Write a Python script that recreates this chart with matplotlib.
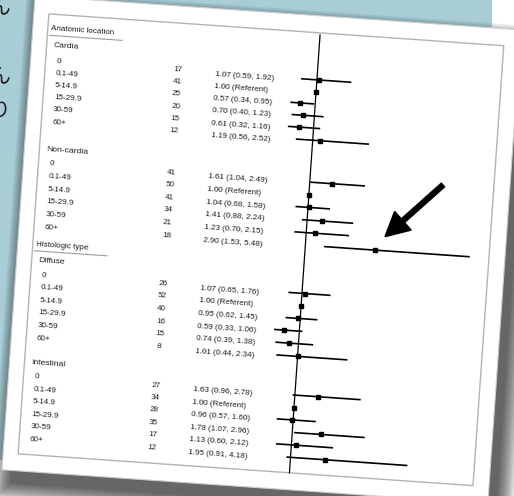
import matplotlib
matplotlib.use("Agg")
import matplotlib.pyplot as plt
from matplotlib.patches import Rectangle, FancyArrow
from matplotlib.transforms import Affine2D

# values
categories = ["0", "0.1-49", "5-14.9", "15-29.9", "30-59", "60+"]
section_names = ["Anatomic location", "Histologic type"]
group_names = ["Cardia", "Non-cardia", "Diffuse", "Intestinal"]

cardia_n = [17, 41, 25, 20, 15, 12]
cardia_or = [1.07, 1.00, 0.57, 0.70, 0.61, 1.19]
cardia_lo = [0.59, None, 0.34, 0.40, 0.32, 0.56]
cardia_hi = [1.92, None, 0.95, 1.23, 1.16, 2.52]

noncardia_n = [41, 50, 41, 34, 21, 18]
noncardia_or = [1.61, 1.00, 1.04, 1.41, 1.23, 2.90]
noncardia_lo = [1.04, None, 0.68, 0.88, 0.70, 1.53]
noncardia_hi = [2.49, None, 1.58, 2.24, 2.15, 5.48]

diffuse_n = [26, 52, 40, 16, 15, 8]
diffuse_or = [1.07, 1.00, 0.95, 0.59, 0.74, 1.01]
diffuse_lo = [0.65, None, 0.62, 0.33, 0.39, 0.44]
diffuse_hi = [1.76, None, 1.45, 1.06, 1.38, 2.34]

intestinal_n = [27, 34, 28, 35, 17, 12]
intestinal_or = [1.63, 1.00, 0.96, 1.78, 1.13, 1.95]
intestinal_lo = [0.96, None, 0.57, 1.07, 0.60, 0.91]
intestinal_hi = [2.78, None, 1.60, 2.96, 2.12, 4.18]

groups = [
    (cardia_n, cardia_or, cardia_lo, cardia_hi),
    (noncardia_n, noncardia_or, noncardia_lo, noncardia_hi),
    (diffuse_n, diffuse_or, diffuse_lo, diffuse_hi),
    (intestinal_n, intestinal_or, intestinal_lo, intestinal_hi),
]

# layout of the (tilted) page, in page pixels
W, H = 514, 496
TILT = 4.0
PIVOT = (300, 250)
section_y = [46.8, 262.8]
group_y = [62.7, 167.9, 279.0, 381.2]
row0_y = [79.1, 181.6, 293.1, 395.1]
row_step = [12.1, 12.66, 12.64, 12.48]
X_ONE, PX_UNIT = 305.0, 36.6
FS = 5.8
INK = "#1b1b1b"

fig = plt.figure(figsize=(W / 100, H / 100), dpi=100)
fig.patch.set_facecolor("white")
ax = fig.add_axes([0, 0, 1, 1])
ax.set_xlim(0, W)
ax.set_ylim(H, 0)
ax.axis("off")

tilt = Affine2D().rotate_deg_around(PIVOT[0], H - PIVOT[1], -TILT)
card = ax.transData + tilt

# slide behind the page
ax.add_patch(Rectangle((0, 0), 492, 460, fc="#a8cdd6", ec="none", zorder=0))
for s, y in zip(["ん", "ん", "り"], [8, 77, 111]):
    ax.text(0, y, s, fontsize=15, color="#202020", ha="center", va="center",
            family=["Noto Sans CJK JP", "DejaVu Sans"], zorder=1)

# page shadow and page
for i in range(12):
    s = i * 1.6
    ax.add_patch(Rectangle((27 - s, 28 - s), 487 + 2 * s, 475 + 2 * s, fc="black",
                           ec="none", alpha=0.07, transform=card, zorder=2))
ax.add_patch(Rectangle((18, 15), 487, 475, fc="white", ec="#cfcfcf", lw=0.8,
                       transform=card, zorder=3))
ax.add_patch(Rectangle((33, 32), 456, 441, fill=False, ec="#b3b3b3", lw=1.0,
                       transform=card, zorder=4))


def ptext(x, y, s, size=FS, **kw):
    ax.text(x, y, s, transform=card, rotation=-TILT, rotation_mode="anchor",
            fontsize=size, color=INK, family="Liberation Sans", va="center",
            zorder=5, **kw)


for name, y in zip(section_names, section_y):
    ptext(36, y, name)
    ax.plot([35, 108], [y + 6.5, y + 6.5], color="#9c9c9c", lw=0.8,
            transform=card, zorder=5)

rows_y = []
for g, (name, gy, r0, st) in enumerate(zip(group_names, group_y, row0_y, row_step)):
    ptext(40, gy, name, size=FS + 0.3)
    n, orr, lo, hi = groups[g]
    ys = [r0 + k * st for k in range(len(categories))]
    rows_y.append(ys)
    for k, cat in enumerate(categories):
        ptext(44, ys[k], cat)
        ptext(166, ys[k], str(n[k]), ha="center")
        if lo[k] is None:
            est = "%.2f (Referent)" % orr[k]
        else:
            est = "%.2f (%.2f, %.2f)" % (orr[k], lo[k], hi[k])
        ptext(203, ys[k] + 2, est)

# forest part: own axes in odds-ratio units, tilted with the page
v0, v1 = 0.0, 6.0
fx0 = X_ONE + (v0 - 1) * PX_UNIT
fx1 = X_ONE + (v1 - 1) * PX_UNIT
fax = fig.add_axes([fx0 / W, 0, (fx1 - fx0) / W, 1])
fax.set_xlim(v0, v1)
fax.set_ylim(H, 0)
fax.axis("off")
ftr = fax.transData + tilt

fax.plot([1, 1], [34, 473], color="black", lw=0.9, transform=ftr, clip_on=False)
for g in range(len(groups)):
    n, orr, lo, hi = groups[g]
    for k in range(len(categories)):
        y = rows_y[g][k]
        if lo[k] is not None:
            fax.plot([lo[k], hi[k]], [y, y], color="black", lw=1.2,
                     transform=ftr, clip_on=False)
        fax.plot([orr[k]], [y], marker="s", ms=3.2, color="black",
                 transform=ftr, clip_on=False)

# pointer arrow drawn over the screenshot
ax.add_patch(FancyArrow(443, 185, -58, 51.7, width=5, head_width=25,
                        head_length=24, length_includes_head=True,
                        fc="black", ec="black", zorder=10))

fig.savefig("out.png", dpi=100, facecolor="white")
